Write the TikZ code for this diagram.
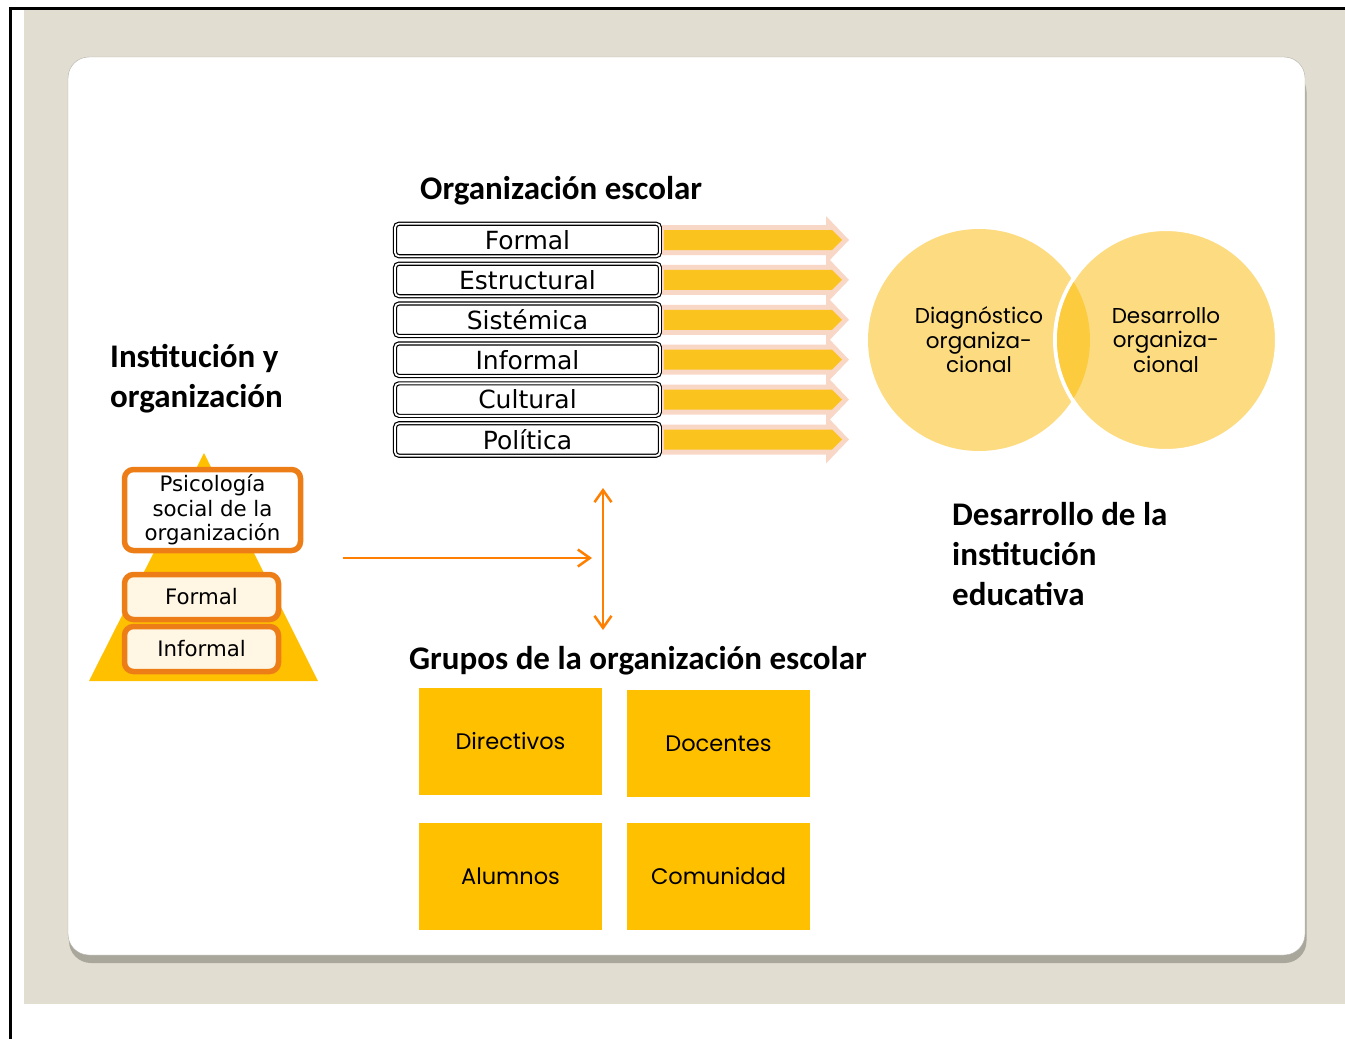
\documentclass[tikz,border=0pt]{standalone}
\usepackage{fontspec}
\setmainfont{DejaVu Sans}
\newfontfamily\headfont{Carlito}
\newfontfamily\roundfont{Poppins}
\usetikzlibrary{arrows.meta,positioning}

\definecolor{paper}{HTML}{E2DDD1}
\definecolor{cardshadow}{HTML}{A9A69B}
\definecolor{rim}{HTML}{B5B2AA}
\definecolor{amber}{HTML}{FFC000}
\definecolor{flowyellow}{HTML}{FBC31E}
\definecolor{glowpink}{HTML}{F9D7C7}
\definecolor{bubblefill}{HTML}{FDDB80}
\definecolor{lensfill}{HTML}{FCCB3E}
\definecolor{boxorange}{HTML}{ED7D17}
\definecolor{linkorange}{HTML}{FF8000}
\definecolor{cream}{HTML}{FFF7E3}

\begin{document}
\begin{tikzpicture}[x=1pt,y=-1pt,node distance=7.4pt]
\tikzset{
  title/.style={font=\headfont\bfseries\fontsize{33}{40}\selectfont, inner sep=0pt, anchor=base west, align=left},
  kind/.style={draw=black, line width=1.2pt, double=white, double distance=1.8pt, rounded corners=4pt, fill=white,
    minimum width=265pt, minimum height=32.5pt, inner sep=0pt, outer sep=0pt, font=\fontsize{25}{26}\selectfont},
  glow/.style={fill=glowpink},
  flow/.style={fill=flowyellow},
  layer/.style={draw=boxorange, line width=5.5pt, rounded corners=9pt, fill=cream, inner sep=0pt, outer sep=0pt,
    minimum width=154pt, minimum height=45pt, align=center, font=\fontsize{21.3}{24.5}\selectfont},
  bubble/.style={circle, fill=bubblefill, minimum size=222pt, inner sep=0pt, outer sep=0pt, align=center,
    font=\roundfont\fontsize{21.5}{24.5}\selectfont},
  group/.style={fill=amber, minimum width=183pt, minimum height=107pt, inner sep=0pt, outer sep=0pt,
    font=\roundfont\fontsize{22.5}{24}\selectfont},
  link/.style={draw=linkorange, line width=2.5pt},
  barb/.tip={Straight Barb[length=12pt,width=17pt]}
}
\useasboundingbox (0,0) rectangle (1345,1039);

% page and card
\fill[paper] (24,9) rectangle (1345,1004);
\draw[line width=3pt] (1345,8) -- (10.5,8) -- (10.5,1039);
\fill[cardshadow, rounded corners=22pt] (69,70) rectangle (1306.5,963);
\draw[rim, fill=white, rounded corners=21pt] (68,57) rectangle (1305,955);

% left block
\node[title] (insttitle) at (110,407) {Institución y\\organización};
\fill[amber] (204,453) -- (318,681) -- (89,681) -- cycle;
\node[layer, fill=white, minimum width=176pt, minimum height=81pt] (psicologia) at (212.5,510) {Psicología\\social de la\\organización};
\node[layer] (layerformal) at (201.5,597) {Formal};
\node[layer, below=7pt of layerformal] (layerinformal) {Informal};

% kinds of organisation
\node[title] (orgtitle) at (420,199) {Organización escolar};
\node[kind] (formal) at (527.5,240) {Formal};
\node[kind, below=of formal] (estructural) {Estructural};
\node[kind, below=of estructural] (sistemica) {Sistémica};
\node[kind, below=of sistemica] (informal) {Informal};
\node[kind, below=of informal] (cultural) {Cultural};
\node[kind, below=of cultural] (politica) {Política};

\foreach \k in {formal,estructural,sistemica,informal,cultural,politica}{
  \fill[glow] (\k.east) ++(2,-15) -- ++(164,0) -- ++(0,-9) -- ++(23,24) -- ++(-23,24) -- ++(0,-9) -- ++(-164,0) -- cycle;
  \fill[flow] (\k.east) ++(4,-10) -- ++(168,0) -- ++(10,10) -- ++(-10,10) -- ++(-168,0) -- cycle;
}

% development circles
\node[bubble] (diagnostico) at (979,340) {Diagnóstico\\organiza-\\cional};
\node[bubble, draw=white, line width=4pt] (desarrollo) at (1166,340) {Desarrollo\\organiza-\\cional};
\begin{scope}
  \clip (desarrollo.center) circle (109);
  \fill[lensfill] (diagnostico.center) circle (111);
\end{scope}
\node[title] (devtitle) at (952,605) {Desarrollo de la\\institución\\educativa};

% links
\coordinate (pushfrom) at (343,558);
\coordinate (pushto) at (592,558);
\coordinate (linkup) at (603,488);
\coordinate (linkdown) at (603,630);
\draw[link, -barb] (pushfrom) -- (pushto);
\draw[link, barb-barb] (linkup) -- (linkdown);

% groups
\node[title] (grouptitle) at (409,669) {Grupos de la organización escolar};
\node[group] (directivos) at (510.5,741) {Directivos};
\node[group, right=25pt of directivos, yshift=-2.5pt] (docentes) {Docentes};
\node[group, below=28pt of directivos] (alumnos) {Alumnos};
\node[group, right=25pt of alumnos] (comunidad) {Comunidad};
\end{tikzpicture}
\end{document}
